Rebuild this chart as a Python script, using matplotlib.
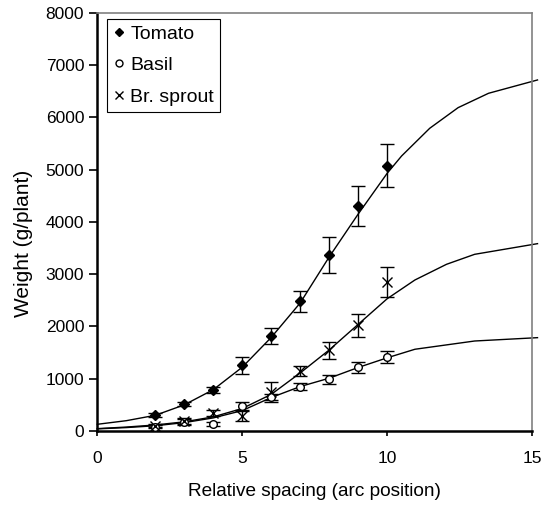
import numpy as np
import matplotlib.pyplot as plt

plt.rcParams['font.family'] = ['Liberation Sans', 'DejaVu Sans']

# measured means and standard errors at each arc position
arc = [2, 3, 4, 5, 6, 7, 8, 9, 10]
tomato = [299, 522, 785, 1260, 1820, 2485, 3365, 4300, 5080]
tomato_err = [40, 40, 60, 165, 160, 200, 340, 380, 410]
basil = [85, 170, 130, 480, 655, 846, 987, 1216, 1413]
basil_err = [30, 50, 35, 70, 60, 70, 85, 100, 115]
sprout = [100, 185, 338, 285, 745, 1152, 1546, 2024, 2850]
sprout_err = [30, 60, 60, 90, 190, 100, 160, 220, 290]

# fitted growth curves
fit_x = [0, 1, 2, 3, 4, 5, 6, 7, 8, 9, 10, 10.5, 11.47, 12.45, 13.5, 15.19]
tomato_fit = [128, 197, 300, 500, 790, 1220, 1790, 2450, 3330, 4150, 4930,
              5263, 5793, 6188, 6463, 6718]
sprout_x = [0, 1, 2, 3, 4, 5, 6, 7, 8, 9, 10, 10.96, 12.05, 13.02, 15.19]
sprout_fit = [45, 75, 115, 175, 270, 430, 700, 1110, 1550, 2040, 2530,
              2890, 3190, 3381, 3585]
basil_x = [0, 1, 2, 3, 4, 5, 6, 7, 8, 9, 10, 10.96, 13.02, 15.19]
basil_fit = [40, 65, 100, 160, 250, 390, 640, 850, 1010, 1215, 1400,
             1564, 1722, 1786]

fig = plt.figure(figsize=(5.48, 5.11), dpi=100)
ax = fig.add_axes([0.1776, 0.1566, 0.7932, 0.818])

for xs, ys in [(fit_x, tomato_fit), (sprout_x, sprout_fit), (basil_x, basil_fit)]:
    ax.plot(xs, ys, color='black', lw=1.0, clip_on=False, zorder=2)

eb = dict(color='black', elinewidth=1.0, capsize=4.7, capthick=1.0,
          linestyle='none', zorder=3)
ax.errorbar(arc, tomato, yerr=tomato_err, marker='D', markersize=5,
            mfc='black', mec='black', label='Tomato', **eb)
ax.errorbar(arc, basil, yerr=basil_err, marker='o', markersize=5.5,
            mfc='white', mec='black', mew=1.0, label='Basil', **eb)
ax.errorbar(arc, sprout, yerr=sprout_err, marker='x', markersize=7,
            mec='black', mew=1.0, label='Br. sprout', **eb)

ax.set_xlim(0, 15)
ax.set_ylim(0, 8000)
ax.set_xticks([0, 5, 10, 15])
ax.set_yticks(np.arange(0, 8001, 1000))
ax.tick_params(direction='out', width=1.2, labelsize=12.5)
ax.tick_params(axis='y', length=6, pad=3.5)
ax.tick_params(axis='x', length=3.6, pad=11)

for side in ['left', 'bottom']:
    ax.spines[side].set_linewidth(1.8)
    ax.spines[side].set_color('black')
for side in ['top', 'right']:
    ax.spines[side].set_linewidth(1.2)
    ax.spines[side].set_color('#808080')

ax.set_xlabel('Relative spacing (arc position)', fontsize=13.7, labelpad=12)
ax.set_ylabel('Weight (g/plant)', fontsize=15)
ax.yaxis.set_label_coords(-0.148, 0.45)

# legend markers only, no error bar glyphs
handles = [
    plt.Line2D([], [], marker='D', ms=4.5, mfc='black', mec='black', ls='none'),
    plt.Line2D([], [], marker='o', ms=5, mfc='white', mec='black', ls='none'),
    plt.Line2D([], [], marker='x', ms=6, mec='black', ls='none'),
]
leg = ax.legend(handles, ['Tomato', 'Basil', 'Br. sprout'], loc='upper left',
                bbox_to_anchor=(0.022, 0.985), fontsize=14, fancybox=False,
                framealpha=1, edgecolor='black', handlelength=0.6,
                handletextpad=0.3, borderpad=0.3, labelspacing=0.72,
                borderaxespad=0)
leg.get_frame().set_linewidth(0.8)

fig.savefig('out.png', dpi=100)
